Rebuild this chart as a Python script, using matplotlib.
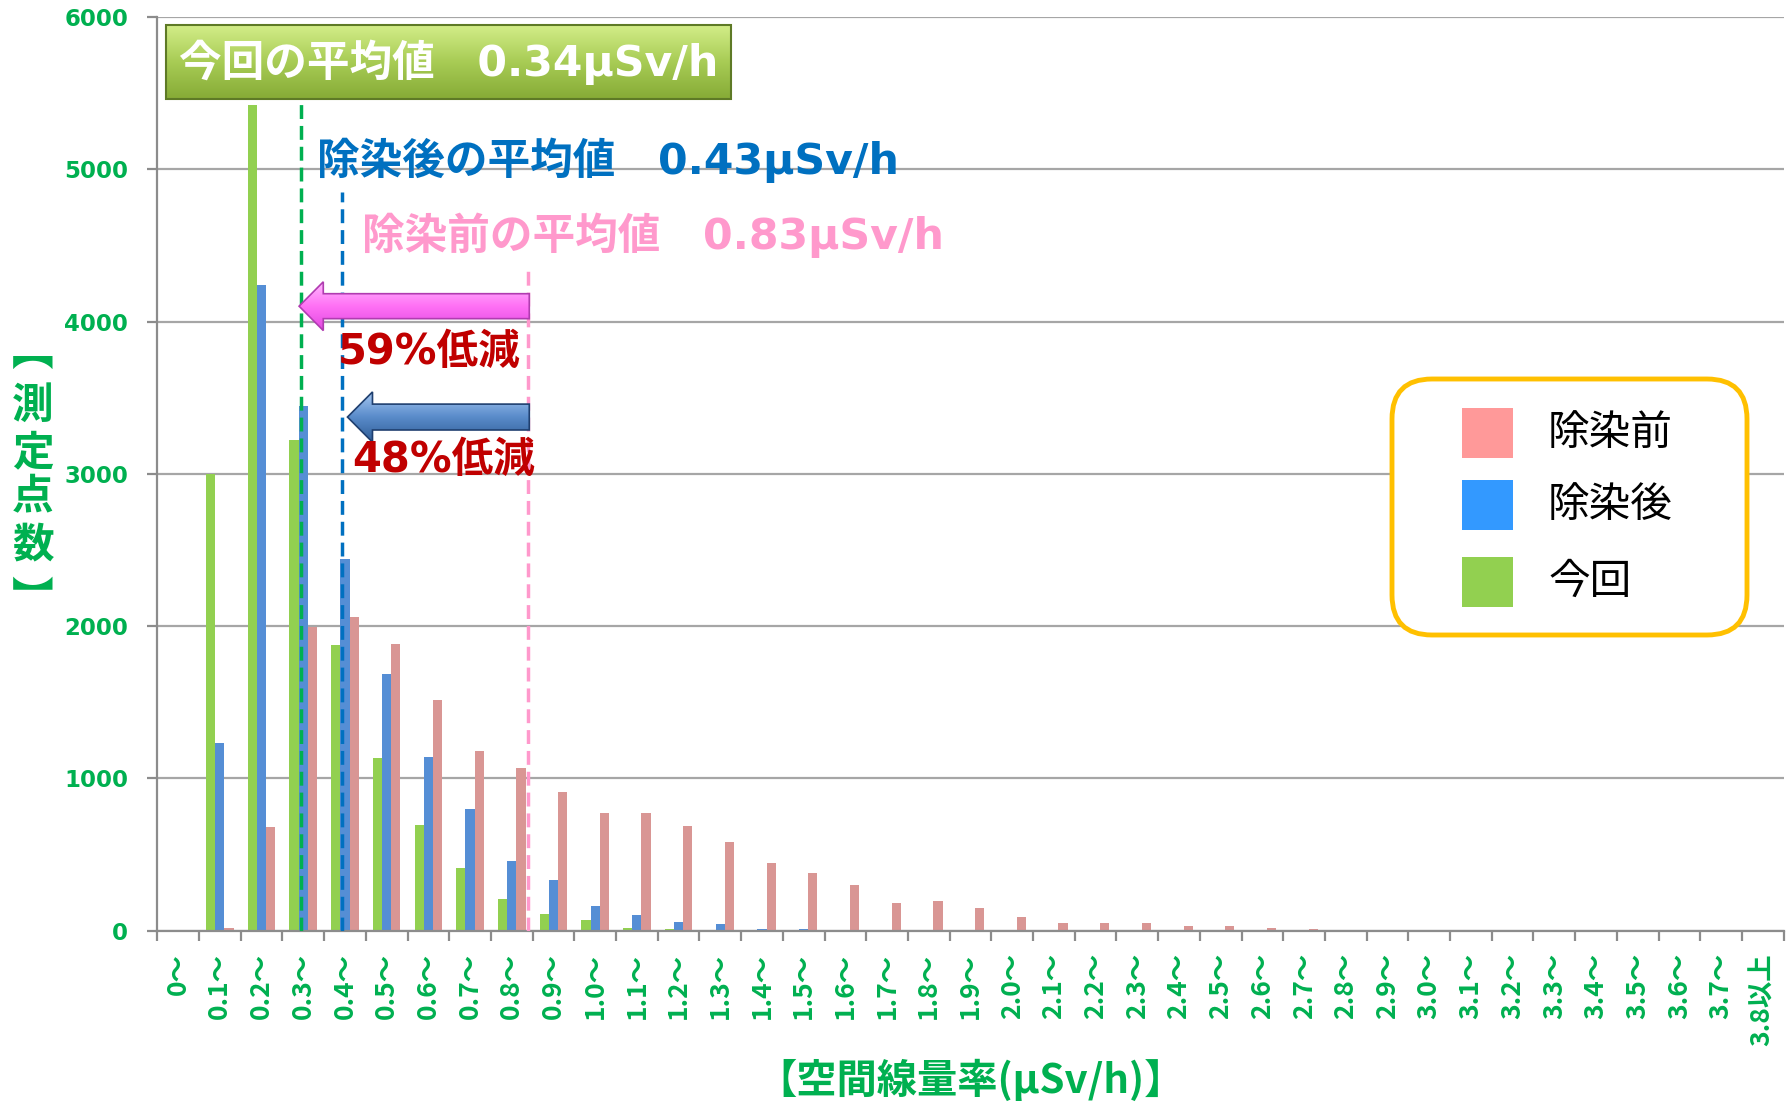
import numpy as np
import matplotlib
matplotlib.use("Agg")
import matplotlib.pyplot as plt
from matplotlib.patches import Polygon, Rectangle, FancyBboxPatch
from matplotlib.colors import LinearSegmentedColormap

plt.rcParams["font.family"] = ["Noto Sans CJK JP", "DejaVu Sans"]
WIDE = ["DejaVu Sans", "Noto Sans CJK JP"]  # wide Latin glyphs, CJK fallback

# --- data -------------------------------------------------------------
categories = ["0～"] + [f"{i / 10:.1f}～" for i in range(1, 38)] + ["3.8以上"]

# 今回 (current survey)
current = [0, 3000, 5420, 3225, 1875, 1135, 692, 415, 205, 108,
           70, 20, 9, 3, 2, 0, 0, 0, 0, 0,
           0, 0, 0, 0, 0, 0, 0, 0, 0, 0,
           0, 0, 0, 0, 0, 0, 0, 0, 0]
# 除染後 (after decontamination)
after = [0, 1232, 4242, 3445, 2440, 1685, 1140, 797, 455, 333,
         165, 105, 59, 42, 13, 11, 7, 0, 0, 0,
         0, 0, 0, 0, 0, 0, 0, 0, 0, 0,
         0, 0, 0, 0, 0, 0, 0, 0, 0]
# 除染前 (before decontamination)
before = [0, 18, 678, 1997, 2058, 1885, 1512, 1183, 1071, 908,
          774, 771, 688, 580, 442, 382, 299, 182, 198, 152,
          90, 53, 48, 48, 33, 28, 18, 9, 7, 7,
          1, 4, 1, 0, 0, 0, 0, 0, 2]

mean_current = 0.34
mean_after = 0.43
mean_before = 0.83
reduction_current = 59
reduction_after = 48

GREEN_TXT = "#00B050"
BAR_GREEN = "#92D050"
BAR_BLUE = "#558ED5"
BAR_PINK = "#D99694"

# --- figure -----------------------------------------------------------
W, H = 1792, 1104
fig = plt.figure(figsize=(W / 100, H / 100), dpi=100)
ax = fig.add_axes([157.3 / W, 1 - 930.7 / H, (1783.7 - 157.3) / W, (930.7 - 17) / H])

x = np.arange(len(categories))
bw = 0.22
ax.bar(x - bw, current, bw, color=BAR_GREEN, zorder=2)
ax.bar(x, after, bw, color=BAR_BLUE, zorder=2)
ax.bar(x + bw, before, bw, color=BAR_PINK, zorder=2)

ax.set_xlim(-0.5, len(categories) - 0.5)
ax.set_ylim(0, 6000)
ax.set_yticks(np.arange(0, 6001, 1000))
ax.yaxis.grid(True, color="#A6A6A6", linewidth=1.6, zorder=0)
ax.set_axisbelow(True)
for s in ["top", "right"]:
    ax.spines[s].set_visible(False)
for s in ["left", "bottom"]:
    ax.spines[s].set_color("#8C8C8C")
    ax.spines[s].set_linewidth(1.6)

# category labels at centres, tick marks at boundaries
ax.set_xticks(x)
ax.set_xticklabels(categories, rotation=90, va="top", ha="center",
                   fontsize=19, fontweight="bold", color=GREEN_TXT)
ax.tick_params(axis="x", which="major", length=0, pad=16)
ax.set_xticks(np.arange(-0.5, len(categories), 1), minor=True)
ax.tick_params(axis="x", which="minor", length=7, width=1.6, color="#8C8C8C")
ax.tick_params(axis="y", length=7, width=1.6, color="#8C8C8C", pad=14)
for lab in ax.get_yticklabels():
    lab.set_family(WIDE)
    lab.set_fontsize(16.5)
    lab.set_fontweight("bold")
    lab.set_color(GREEN_TXT)

ax.set_xlabel("【空間線量率(μSv/h)】", fontsize=29, fontweight="bold",
              color=GREEN_TXT, labelpad=10)

# vertical y label, one glyph per line
ylab_chars = ["︻", "測", "定", "点", "数", "︼"]
ylab_y = [353, 406, 453, 497, 545, 600]
for ch, yy in zip(ylab_chars, ylab_y):
    fig.text(33 / W, 1 - yy / H, ch, fontsize=30, fontweight="bold",
             color=GREEN_TXT, ha="center", va="center")

# --- mean lines -------------------------------------------------------
ax.plot([2.95, 2.95], [0, 5455], color="#00B050", lw=2.5, ls=(0, (4, 2)), zorder=4)
ax.plot([3.92, 3.92], [0, 4850], color="#0070C0", lw=2.5, ls=(0, (4, 2)), zorder=4)
ax.plot([8.38, 8.38], [0, 4360], color="#FF99CC", lw=2.5, ls=(0, (4, 2)), zorder=4)


def gradient_patch(patch, colors, extent, z):
    patch.set_facecolor("none")
    patch.set_zorder(z + 0.1)
    ax.add_patch(patch)
    cmap = LinearSegmentedColormap.from_list("g", colors)
    im = ax.imshow(np.linspace(0, 1, 256).reshape(-1, 1), cmap=cmap,
                   extent=extent, aspect="auto", origin="upper",
                   interpolation="bilinear", zorder=z)
    im.set_clip_path(patch)


# green box with current mean
box = Rectangle((-0.29, 5461), 13.55, 486, edgecolor="#5E7A26", linewidth=1.5)
gradient_patch(box, ["#D4EE8A", "#A8CC55", "#86AB36"], (-0.29, 13.26, 5461, 5947), 5)
ax.text(0.02, 5704, f"今回の平均値　{mean_current}μSv/h", fontsize=30.7, family=WIDE,
        fontweight="bold", color="white", ha="left", va="center", zorder=6)

ax.text(3.33, 5060, f"除染後の平均値　{mean_after}μSv/h", fontsize=30.7, family=WIDE,
        fontweight="bold", color="#0070C0", ha="left", va="center", zorder=6)
ax.text(4.41, 4568, f"除染前の平均値　{mean_before}μSv/h", fontsize=30.7, family=WIDE,
        fontweight="bold", color="#FF99CC", ha="left", va="center", zorder=6)


def arrow(tail, tip, yc, shaft, head, hlen, colors, edge):
    pts = [(tail, yc + shaft), (tip + hlen, yc + shaft), (tip + hlen, yc + head),
           (tip, yc), (tip + hlen, yc - head), (tip + hlen, yc - shaft),
           (tail, yc - shaft)]
    poly = Polygon(pts, closed=True, edgecolor=edge, linewidth=1.2)
    gradient_patch(poly, colors, (tip, tail, yc - head, yc + head), 5)


arrow(8.42, 2.9, 4101, 82, 160, 0.58, ["#FFB8FF", "#FF70F5", "#E048E0"], "#B03CB0")
arrow(8.42, 4.06, 3373, 85, 165, 0.6, ["#A9C9F2", "#5A8CCB", "#2F5D96"], "#1F3F6F")

ax.text(3.83, 3800, f"{reduction_current}%低減", fontsize=30, fontweight="bold",
        family=WIDE, color="#C00000", ha="left", va="center", zorder=6)
ax.text(4.17, 3090, f"{reduction_after}%低減", fontsize=30, fontweight="bold",
        family=WIDE, color="#C00000", ha="left", va="center", zorder=6)

ax.set_xlim(-0.5, len(categories) - 0.5)
ax.set_ylim(0, 6000)

# --- legend (rounded box) ----------------------------------------------
lx0, ly0, lx1, ly1 = 1389, 376, 1750, 638
lax = fig.add_axes([lx0 / W, 1 - ly1 / H, (lx1 - lx0) / W, (ly1 - ly0) / H])
lw_, lh_ = lx1 - lx0, ly1 - ly0
lax.set_xlim(0, lw_)
lax.set_ylim(0, lh_)
lax.axis("off")
lax.add_patch(FancyBboxPatch((3, 3), lw_ - 6, lh_ - 6,
                             boxstyle="round,pad=0,rounding_size=40",
                             facecolor="white", edgecolor="#FFC000", linewidth=3.5))
legend_labels = ["除染前", "除染後", "今回"]
legend_colors = ["#FF9999", "#3399FF", "#92D050"]
legend_y = [433, 505, 582]
for lab, col, yy in zip(legend_labels, legend_colors, legend_y):
    yc = ly1 - yy
    lax.add_patch(Rectangle((73, yc - 25), 51, 50, facecolor=col, edgecolor="none"))
    lax.text(159, yc, lab, fontsize=30, color="black", ha="left", va="center")

fig.savefig("out.png", dpi=100, facecolor="white")
